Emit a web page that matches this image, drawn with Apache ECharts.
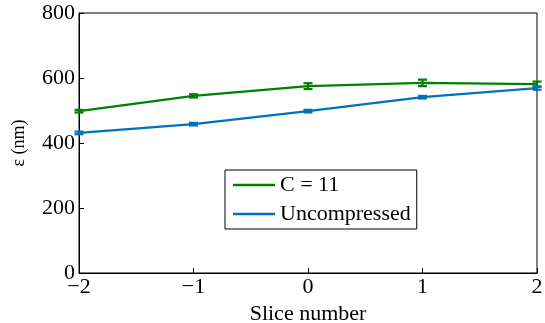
<!DOCTYPE html>
<html>
<head>
<meta charset="utf-8">
<script src="https://cdn.jsdelivr.net/npm/echarts@6/dist/echarts.min.js"></script>
<style>
html,body{margin:0;padding:0;background:#fff;}
#chart{width:545px;height:323px;}
</style>
</head>
<body>
<div id="chart"></div>
<script>
// Slice positions and emittance values (nm) with their error half-widths
const slices = [-2, -1, 0, 1, 2];
const compressedVals = [498, 545, 575, 585, 581];
const compressedErr = [4, 5, 9, 10, 8];
const uncompressedVals = [431, 458, 498, 541, 569];
const uncompressedErr = [4, 4, 4, 4, 5];
const seriesNames = ['C = 11', 'Uncompressed'];
const xTicks = [-2, -1, 0, 1, 2];
const yTicks = [0, 200, 400, 600, 800];

const green = '#008000';
const blue = '#0072BD';
const font = 'Liberation Serif';

function pairs(xs, ys) { return xs.map((x, i) => [x, ys[i]]); }
function errData(xs, ys, es) { return xs.map((x, i) => [x, ys[i] - es[i], ys[i] + es[i]]); }

function errorBar(color) {
  return function (params, api) {
    const x = api.value(0);
    const lo = api.coord([x, api.value(1)]);
    const hi = api.coord([x, api.value(2)]);
    const half = 4.5;
    const style = { stroke: color, lineWidth: 2.2 };
    return {
      type: 'group',
      children: [
        { type: 'line', shape: { x1: lo[0], y1: lo[1], x2: hi[0], y2: hi[1] }, style: style },
        { type: 'line', shape: { x1: lo[0] - half, y1: lo[1], x2: lo[0] + half, y2: lo[1] }, style: style },
        { type: 'line', shape: { x1: hi[0] - half, y1: hi[1], x2: hi[0] + half, y2: hi[1] }, style: style }
      ]
    };
  };
}

const minus = v => String(v).replace('-', '\u2212');

const chart = echarts.init(document.getElementById('chart'), null, { renderer: 'canvas' });
chart.setOption({
  animation: false,
  textStyle: { fontFamily: font },
  grid: {
    left: 79, right: 8, top: 13, bottom: 50,
    outerBoundsMode: 'none', containLabel: false,
    show: true, borderColor: '#000', borderWidth: 1, backgroundColor: 'transparent'
  },
  legend: {
    data: seriesNames,
    orient: 'vertical',
    left: 225, top: 170,
    icon: 'rect',
    itemWidth: 42, itemHeight: 2.5, itemGap: 7,
    padding: [4, 6, 4, 8],
    borderColor: '#000', borderWidth: 1,
    backgroundColor: '#fff',
    textStyle: { fontFamily: font, fontSize: 22, color: '#000', lineHeight: 22 }
  },
  xAxis: {
    type: 'value', min: -2, max: 2, interval: 1,
    name: 'Slice number', nameLocation: 'middle', nameGap: 26,
    nameTextStyle: { fontFamily: font, fontSize: 22, color: '#000' },
    axisLine: { show: true, onZero: false, lineStyle: { color: '#000', width: 1 } },
    axisTick: { show: true, inside: true, length: 5, lineStyle: { color: '#000' } },
    axisLabel: { color: '#000', fontSize: 22, fontFamily: font, margin: 3, formatter: minus },
    splitLine: { show: false }
  },
  yAxis: {
    type: 'value', min: 0, max: 800, interval: 200,
    name: '\u03b5 (nm)', nameLocation: 'middle', nameGap: 51, nameRotate: 90,
    nameTextStyle: { fontFamily: font, fontSize: 18, color: '#000' },
    axisLine: { show: true, onZero: false, lineStyle: { color: '#000', width: 1 } },
    axisTick: { show: true, inside: true, length: 5, lineStyle: { color: '#000' } },
    axisLabel: { color: '#000', fontSize: 22, fontFamily: font, margin: 4 },
    splitLine: { show: false }
  },
  series: [
    {
      name: seriesNames[0], type: 'line', data: pairs(slices, compressedVals),
      symbol: 'none', clip: false, lineStyle: { color: green, width: 2.2 }, itemStyle: { color: green }, z: 3
    },
    {
      name: seriesNames[1], type: 'line', data: pairs(slices, uncompressedVals),
      symbol: 'none', clip: false, lineStyle: { color: blue, width: 2.2 }, itemStyle: { color: blue }, z: 2
    },
    {
      type: 'custom', data: errData(slices, compressedVals, compressedErr),
      renderItem: errorBar(green), clip: false, z: 4, encode: { x: 0, y: [1, 2] }
    },
    {
      type: 'custom', data: errData(slices, uncompressedVals, uncompressedErr),
      renderItem: errorBar(blue), clip: false, z: 4, encode: { x: 0, y: [1, 2] }
    }
  ]
});
</script>
</body>
</html>
